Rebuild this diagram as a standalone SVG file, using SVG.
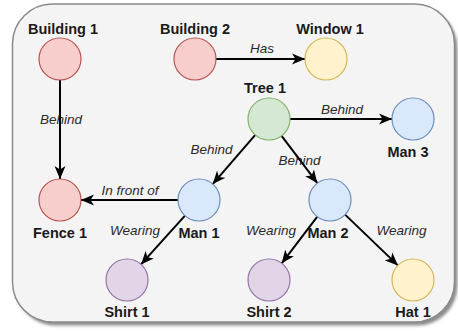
<svg xmlns="http://www.w3.org/2000/svg" width="458" height="331" viewBox="0 0 458 331">
<defs>
<marker id="arr" markerUnits="userSpaceOnUse" markerWidth="14" markerHeight="12" viewBox="0 0 14 12" refX="13" refY="6" orient="auto">
<path d="M0,0.5 L13,6 L0,11.5 L3.5,6 Z" fill="#000"/>
</marker>
<filter id="sh" x="-5%" y="-5%" width="110%" height="110%">
<feGaussianBlur stdDeviation="1.5"/>
</filter>
</defs>
<style>
.panel{fill:#f4f4f4;stroke:#8a8a8a;stroke-width:1.5}
.red{fill:#f8cecc;stroke:#b85450;stroke-width:1.2}
.yel{fill:#fff2cc;stroke:#d6b656;stroke-width:1.2}
.grn{fill:#d5e8d4;stroke:#82b366;stroke-width:1.2}
.blu{fill:#dae8fc;stroke:#6c8ebf;stroke-width:1.2}
.pur{fill:#e1d5e7;stroke:#9673a6;stroke-width:1.2}
.nl{font-family:"Liberation Sans",Arial,sans-serif;font-weight:bold;font-size:14.5px;fill:#1a1a1a;text-anchor:middle}
.el{font-family:"Liberation Sans",Arial,sans-serif;font-style:italic;font-size:13.5px;fill:#2a2a2a;text-anchor:middle}
.ln{fill:none;stroke:#000;stroke-width:2;marker-end:url(#arr)}
</style>
<rect x="15.5" y="7.5" width="442" height="318" rx="40" fill="#8c8c8c" filter="url(#sh)"/>
<rect class="panel" x="12.5" y="4" width="442" height="318" rx="40"/>
<g id="connectors">
<text class="el" x="61" y="124">Behind</text>
<text class="el" x="262" y="53">Has</text>
<text class="el" x="342" y="114">Behind</text>
<text class="el" x="211.5" y="153.5">Behind</text>
<text class="el" x="299.5" y="165">Behind</text>
<text class="el" x="130" y="195">In front of</text>
<text class="el" x="135" y="235">Wearing</text>
<text class="el" x="271" y="235">Wearing</text>
<text class="el" x="401.5" y="235">Wearing</text>
<path class="ln" d="M60,80 L60,179"/>
<path class="ln" d="M216,59 L305,59"/>
<path class="ln" d="M290,119 L392,119"/>
<path class="ln" d="M255.3,134.9 L212.7,184.1"/>
<path class="ln" d="M281.6,135.8 L317.4,183.2"/>
<path class="ln" d="M178,200 L81,200"/>
<path class="ln" d="M185,215.6 L141,264.4"/>
<path class="ln" d="M317.3,216.7 L281.7,263.3"/>
<path class="ln" d="M345.1,214.6 L397.9,265.4"/>
</g>
<g id="building1"><circle class="red" cx="60" cy="59" r="21"/><text class="nl" x="63" y="34">Building 1</text></g>
<g id="building2"><circle class="red" cx="195" cy="59" r="21"/><text class="nl" x="195" y="34">Building 2</text></g>
<g id="window1"><circle class="yel" cx="326" cy="59" r="21"/><text class="nl" x="330" y="34">Window 1</text></g>
<g id="tree1"><circle class="grn" cx="269" cy="119" r="21"/><text class="nl" x="265" y="93">Tree 1</text></g>
<g id="man3"><circle class="blu" cx="413" cy="119" r="21"/><text class="nl" x="408" y="157">Man 3</text></g>
<g id="fence1"><circle class="red" cx="60" cy="200" r="21"/><text class="nl" x="60" y="238">Fence 1</text></g>
<g id="man1"><circle class="blu" cx="199" cy="200" r="21"/><text class="nl" x="199" y="238">Man 1</text></g>
<g id="man2"><circle class="blu" cx="330" cy="200" r="21"/><text class="nl" x="328" y="238">Man 2</text></g>
<g id="shirt1"><circle class="pur" cx="127" cy="280" r="21"/><text class="nl" x="127" y="317">Shirt 1</text></g>
<g id="shirt2"><circle class="pur" cx="269" cy="280" r="21"/><text class="nl" x="269" y="317">Shirt 2</text></g>
<g id="hat1"><circle class="yel" cx="413" cy="280" r="21"/><text class="nl" x="413" y="317">Hat 1</text></g>
</svg>
